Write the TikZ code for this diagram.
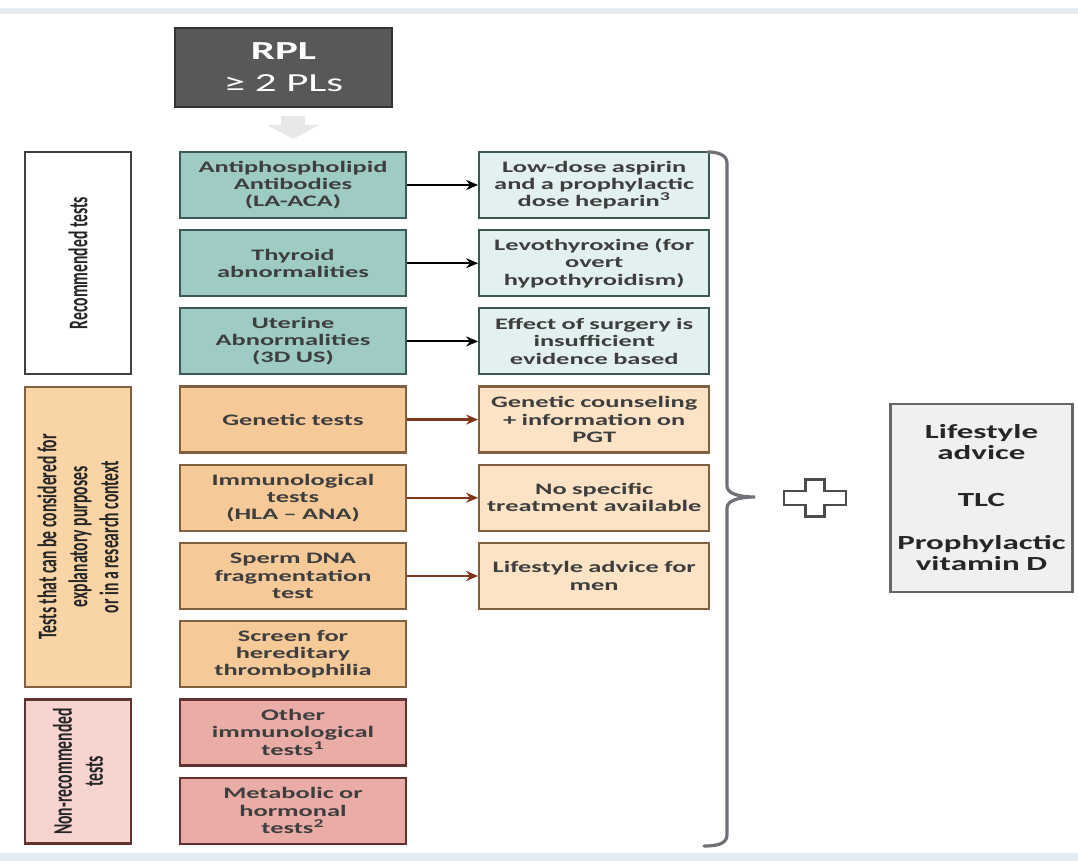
\documentclass[tikz,border=0pt]{standalone}
\usepackage{fontspec}
\setmainfont{Carlito}
\newfontfamily\boxfont[FakeStretch=1.65]{Carlito}
\newfontfamily\sidefont[FakeStretch=0.58]{Carlito}
\usetikzlibrary{arrows.meta, positioning, calc}

\definecolor{inkgray}{RGB}{62,62,62}
\definecolor{tealfill}{RGB}{158,204,196}
\definecolor{tealdraw}{RGB}{58,88,84}
\definecolor{teallight}{RGB}{226,241,239}
\definecolor{orangefill}{RGB}{246,201,152}
\definecolor{orangedraw}{RGB}{128,96,62}
\definecolor{orangelight}{RGB}{252,227,197}
\definecolor{pinkfill}{RGB}{234,172,166}
\definecolor{pinkdraw}{RGB}{98,50,48}
\definecolor{pinklight}{RGB}{247,212,207}
\definecolor{grouporange}{RGB}{248,212,166}
\definecolor{rplgray}{RGB}{88,88,88}
\definecolor{bracegray}{RGB}{112,112,118}
\definecolor{arrowbrown}{RGB}{128,52,28}
\definecolor{bandblue}{RGB}{228,236,242}

\tikzset{
    base/.style = {
        draw, line width=1.1pt, text centered, align=center, inner sep=1.5pt,
        text=inkgray, font=\boxfont\bfseries\fontsize{8}{8.6}\selectfont
    },
    % Columns
    test/.style    = {base, text width=110pt, minimum height=33pt},
    therapy/.style = {base, text width=112pt, minimum height=33pt},
    rtest/.style   = {test, fill=tealfill, draw=tealdraw},
    etest/.style   = {test, fill=orangefill, draw=orangedraw},
    ntest/.style   = {test, fill=pinkfill, draw=pinkdraw},
    rther/.style   = {therapy, fill=teallight, draw=tealdraw},
    ether/.style   = {therapy, fill=orangelight, draw=orangedraw},
    group/.style   = {base, rotate=90, minimum height=53pt, text=black!85,
                      font=\sidefont\bfseries\fontsize{13.5}{15.5}\selectfont},
    start/.style   = {base, fill=rplgray, draw=black!80, line width=1.4pt, text=white,
                      minimum width=108.5pt, minimum height=39.5pt,
                      font=\boxfont\fontsize{13}{15}\selectfont},
    lifebox/.style = {base, fill=black!6, draw=black!60, line width=1.4pt, text=black!85,
                      text width=88pt, minimum height=94pt,
                      font=\boxfont\bfseries\fontsize{10}{10.5}\selectfont},
    % Edges
    arrow/.style      = {line width=1.1pt, -{Stealth[length=6pt, width=5pt]}},
    brownarrow/.style = {arrow, draw=arrowbrown},
    fatarrow/.style   = {line width=12pt, draw=black!9, shorten <=4pt, shorten >=6pt,
                         -{Triangle[length=7pt, width=26pt]}},
    brace/.style      = {line width=1.6pt, draw=bracegray, line cap=round}
}

\begin{document}
\begin{tikzpicture}[x=0.5pt, y=-0.5pt]
    \useasboundingbox (0,0) rectangle (1078,861);
    \fill[bandblue] (0,8) rectangle (1078,14);
    \fill[bandblue] (0,853) rectangle (1078,861);

    % Nodes
    \node (rpl) [start] at (283.5,67.5) {\textbf{RPL}\\[1pt]≥ 2 PLs};

    \node (apl)    [rtest] at (293,185) {Antiphospholipid\\Antibodies\\(LA-ACA)};
    \node (thyr)   [rtest, below=5pt of apl] {Thyroid\\abnormalities};
    \node (uter)   [rtest, below=5pt of thyr] {Uterine\\Abnormalities\\(3D US)};
    \node (gen)    [etest, below=5pt of uter] {Genetic tests};
    \node (immu)   [etest, below=5pt of gen] {Immunological\\tests\\(HLA – ANA)};
    \node (sperm)  [etest, below=5pt of immu] {Sperm DNA\\fragmentation\\test};
    \node (screen) [etest, below=5pt of sperm] {Screen for\\hereditary\\thrombophilia};
    \node (oimm)   [ntest, below=5pt of screen] {Other\\immunological\\tests\textsuperscript{1}};
    \node (meta)   [ntest, below=5pt of oimm] {Metabolic or\\hormonal\\tests\textsuperscript{2}};

    \node (asp)    [rther, right=35.5pt of apl] {Low-dose aspirin\\and a prophylactic\\dose heparin\textsuperscript{3}};
    \node (levo)   [rther, right=35.5pt of thyr] {Levothyroxine (for\\overt\\hypothyroidism)};
    \node (surg)   [rther, right=35.5pt of uter] {Effect of surgery is\\insufficient\\evidence based};
    \node (couns)  [ether, right=35.5pt of gen] {Genetic counseling\\+ information on\\PGT};
    \node (nospec) [ether, right=35.5pt of immu] {No specific\\treatment available};
    \node (lifem)  [ether, right=35.5pt of sperm] {Lifestyle advice for\\men};

    \node (rec) [group, fill=white, draw=black!75, minimum width=111pt]
        at ($(thyr.west)+(-50.5pt,0)$) {Recommended tests};
    \node (expl) [group, fill=grouporange, draw=orangedraw, minimum width=150pt]
        at ($(gen.west)!0.5!(screen.west)+(-50.5pt,0)$) {Tests that can be considered for\\explanatory purposes\\or in a research context};
    \node (nonrec) [group, fill=pinklight, draw=pinkdraw, minimum width=72pt]
        at ($(oimm.west)!0.5!(meta.west)+(-50.5pt,0)$) {Non-recommended\\tests};

    \node (life) [lifebox] at (981.5,498) {Lifestyle\\advice\\[13pt]TLC\\[11pt]Prophylactic\\vitamin D};

    % Brace and plus
    \draw [brace] (708,152) to[out=0,in=90] (727,163) -- (727,486)
        .. controls (727,494) and (740,497) .. (755,497)
        .. controls (740,497) and (727,500) .. (727,508) -- (727,835)
        to[out=-90,in=0] (704,846);
    \coordinate (plus) at (815,498);
    \draw [line width=1.1pt, draw=black!70, fill=white, shift={(plus)}]
        (-31,-7) -- (-9.5,-7) -- (-9.5,-18.5) -- (9.5,-18.5) -- (9.5,-7) -- (31,-7)
        -- (31,7) -- (9.5,7) -- (9.5,18.5) -- (-9.5,18.5) -- (-9.5,7) -- (-31,7) -- cycle;

    % Edges
    \draw [fatarrow] (apl.north |- rpl.south) -- (apl.north);
    \draw [arrow] (apl) -- (asp);
    \draw [arrow] (thyr) -- (levo);
    \draw [arrow] (uter) -- (surg);
    \draw [brownarrow] (gen) -- (couns);
    \draw [brownarrow] (immu) -- (nospec);
    \draw [brownarrow] (sperm) -- (lifem);
\end{tikzpicture}
\end{document}
